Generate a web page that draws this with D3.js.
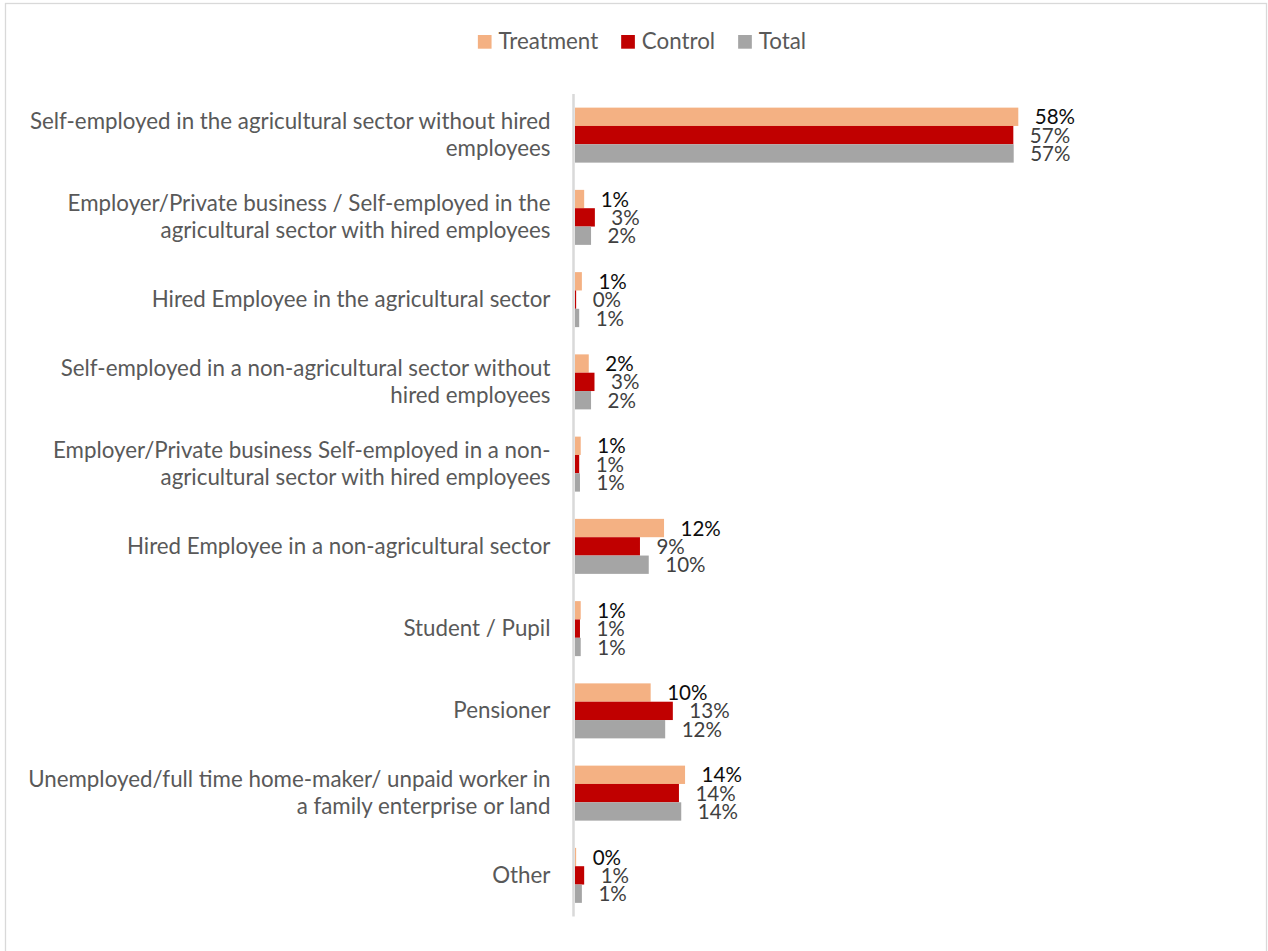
<!DOCTYPE html>
<html>
<head>
<meta charset="utf-8">
<script src="https://cdn.jsdelivr.net/npm/d3@7"></script>
<style>
  html, body { margin: 0; padding: 0; background: #ffffff; }
  svg { display: block; }
</style>
</head>
<body>
<svg id="chart" width="1268" height="951"></svg>
<script>
// Employment status by group (percent of respondents)
const categories = [
  "Self-employed in the agricultural sector without hired\nemployees",
  "Employer/Private business / Self-employed in the\nagricultural sector with hired employees",
  "Hired Employee in the agricultural sector",
  "Self-employed in a non-agricultural sector without\nhired employees",
  "Employer/Private business Self-employed in a non-\nagricultural sector with hired employees",
  "Hired Employee in a non-agricultural sector",
  "Student / Pupil",
  "Pensioner",
  "Unemployed/full time home-maker/ unpaid worker in\na family enterprise or land",
  "Other"
];
const seriesNames = ["Treatment", "Control", "Total"];
const treatment = [58.0, 1.2, 0.9, 1.8, 0.75, 11.65, 0.75, 9.9, 14.4, 0.15];
const control   = [57.35, 2.6, 0.15, 2.55, 0.55, 8.5, 0.65, 12.8, 13.6, 1.2];
const total     = [57.4, 2.1, 0.55, 2.1, 0.65, 9.65, 0.75, 11.8, 13.9, 0.9];
const seriesColors = ["#F4B183", "#C00000", "#A5A5A5"];
const labelColors  = ["#0d0d0d", "#404040", "#404040"];

const seriesValues = [treatment, control, total];
const rows = categories.map((c, i) => ({
  category: c,
  values: seriesNames.map((s, j) => ({ series: s, idx: j, value: seriesValues[j][i] }))
}));

const FONT = "Lato, 'Open Sans', sans-serif";
const svg = d3.select("#chart");

// outer chart frame
svg.append("rect")
  .attr("x", 5.5).attr("y", 3.5)
  .attr("width", 1261).attr("height", 960)
  .attr("fill", "#ffffff")
  .attr("stroke", "#d9d9d9").attr("stroke-width", 1.3);

// size text so the widest category line spans the label column
const probe = svg.append("text").attr("font-family", FONT).attr("font-size", 100)
  .text(categories[0].split("\n")[0]);
const probeW = probe.node().getComputedTextLength();
probe.remove();
const fs = Math.max(14, Math.min(26, 100 * 521 / probeW));
const valueFs = fs * 0.92;

// scales
const x = d3.scaleLinear().domain([0, 70]).range([575, 575 + 70 * 7.643]);
const y = d3.scaleBand().domain(categories).range([94, 916.5]).padding(0);
const barSpan = 55;
const yInner = d3.scaleBand().domain(seriesNames)
  .range([(y.bandwidth() - barSpan) / 2, (y.bandwidth() + barSpan) / 2]).padding(0);

// bars
const groups = svg.append("g").selectAll("g.grp")
  .data(rows).join("g")
  .attr("class", "grp")
  .attr("transform", d => `translate(0,${y(d.category)})`);

groups.selectAll("rect")
  .data(d => d.values).join("rect")
  .attr("x", x(0))
  .attr("y", d => yInner(d.series))
  .attr("width", d => x(d.value) - x(0))
  .attr("height", yInner.bandwidth())
  .attr("fill", d => seriesColors[d.idx]);

// data labels
groups.selectAll("text.val")
  .data(d => d.values).join("text")
  .attr("class", "val")
  .attr("x", d => x(d.value) + 16.5)
  .attr("y", d => yInner(d.series) + yInner.bandwidth() / 2)
  .attr("dy", "0.37em")
  .attr("font-family", FONT)
  .attr("font-size", valueFs)
  .attr("fill", d => labelColors[d.idx])
  .text(d => Math.round(d.value) + "%");

// vertical category axis line
svg.append("line")
  .attr("x1", 573.5).attr("x2", 573.5)
  .attr("y1", y.range()[0]).attr("y2", y.range()[1])
  .attr("stroke", "#d9d9d9").attr("stroke-width", 2.5);

// category labels (right aligned, wrapped)
const lineH = 27;
const catLabels = svg.append("g").selectAll("text.cat")
  .data(categories).join("text")
  .attr("class", "cat")
  .attr("text-anchor", "end")
  .attr("font-family", FONT)
  .attr("font-size", fs)
  .attr("fill", "#595959");

catLabels.each(function(c) {
  const lines = c.split("\n");
  const cy = y(c) + y.bandwidth() / 2;
  const t = d3.select(this);
  lines.forEach((ln, k) => {
    t.append("tspan")
      .attr("x", 550.5)
      .attr("y", cy + (k - (lines.length - 1) / 2) * lineH)
      .attr("dy", "0.33em")
      .text(ln);
  });
});

// legend
const legend = svg.append("g");
const sq = 13.7, gapIn = 7, gapOut = 23;
let cx = 0;
seriesNames.forEach((s, i) => {
  const g = legend.append("g");
  g.append("rect").attr("x", 0).attr("y", -sq).attr("width", sq).attr("height", sq)
    .attr("fill", seriesColors[i]);
  const t = g.append("text").attr("x", sq + gapIn).attr("y", 0)
    .attr("font-family", FONT).attr("font-size", fs).attr("fill", "#595959").text(s);
  const w = sq + gapIn + t.node().getComputedTextLength();
  g.attr("transform", `translate(${cx},0)`);
  cx += w + gapOut;
});
const legendW = cx - gapOut;
legend.attr("transform", `translate(${642 - legendW / 2},48.7)`);
</script>
</body>
</html>
